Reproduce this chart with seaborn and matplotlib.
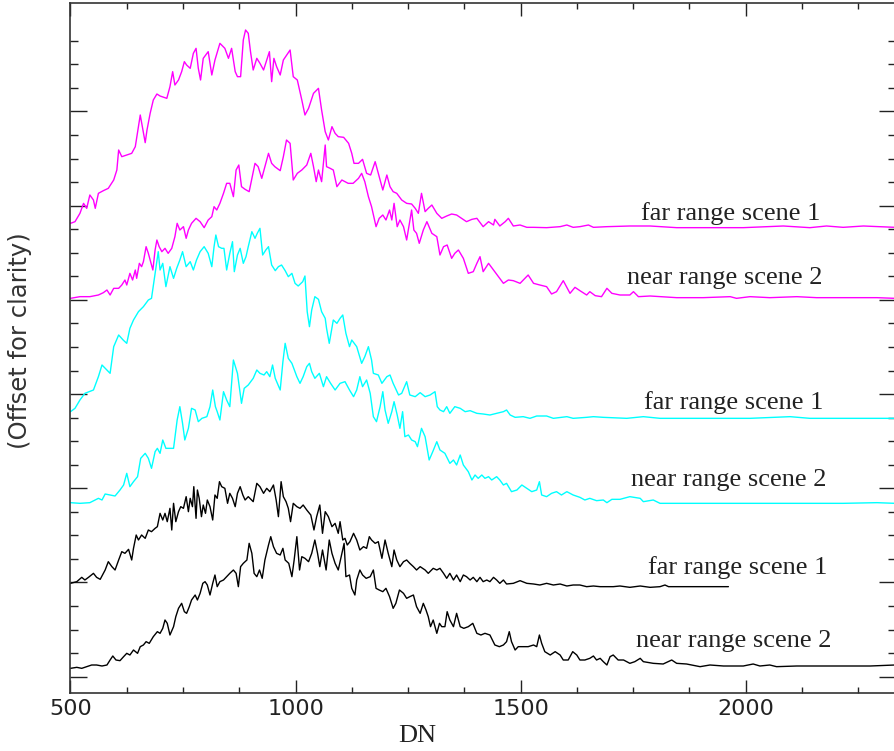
import numpy as np
import pandas as pd
import matplotlib
matplotlib.use("Agg")
import matplotlib.pyplot as plt
import seaborn as sns
from matplotlib.ticker import FixedLocator, NullFormatter

# ---------------- data (DN, offset counts) ----------------
mag_far = [(500,1409),(510,1414),(521,1439),(529,1469),(536,1454),(543,1494),(551,1479),(555,1454),(562,1499),(573,1507),
(584,1514),(596,1539),(603,1569),(607,1629),(614,1609),(625,1614),(636,1619),(644,1639),(651,1699),(655,1734),
(661,1689),(666,1651),(670,1689),(677,1739),(684,1779),(692,1797),(699,1791),(714,1784),(721,1819),(727,1864),
(732,1824),(740,1839),(747,1864),(753,1894),(758,1884),(766,1874),(773,1919),(779,1934),(784,1874),(789,1839),
(795,1904),(806,1924),(814,1854),(821,1899),(832,1949),(843,1934),(851,1904),(858,1934),(866,1864),(871,1849),
(878,1849),(884,1959),(889,1989),(895,1979),(900,1924),(906,1869),(914,1904),(921,1889),(929,1869),(936,1899),
(942,1924),(947,1834),(952,1904),(958,1879),(966,1854),(973,1899),(988,1929),(995,1849),(1004,1839),(1014,1779),
(1021,1734),(1029,1754),(1040,1799),(1051,1814),(1058,1749),(1066,1684),(1073,1659),(1081,1699),(1088,1679),(1095,1669),
(1107,1667),(1118,1649),(1125,1619),(1130,1589),(1140,1589),(1149,1601),(1158,1559),(1167,1554),(1177,1594),(1184,1559),
(1194,1509),(1203,1554),(1210,1519),(1217,1504),(1225,1499),(1236,1479),(1247,1469),(1258,1467),(1266,1454),(1273,1439),
(1280,1499),(1288,1444),(1295,1454),(1303,1464),(1314,1439),(1325,1424),(1336,1431),(1347,1437),(1358,1434),(1369,1424),
(1380,1414),(1392,1421),(1403,1424),(1417,1399),(1429,1414),(1440,1404),(1443,1421),(1454,1401),(1466,1414),(1473,1424),
(1484,1401),(1499,1404),(1514,1397),(1529,1397),(1558,1396),(1588,1399),(1603,1404),(1617,1397),(1632,1399),(1651,1404),
(1662,1397),(1692,1399),(1743,1401),(1788,1401),(1847,1396),(1921,1396),(1995,1396),(2084,1401),(2143,1396),(2180,1401),
(2217,1397),(2262,1401),(2332,1397)]

mag_near = [(500,1184),(521,1189),(543,1189),(562,1194),(573,1201),(581,1209),(588,1194),(596,1214),(607,1214),(614,1224),
(621,1239),(625,1224),(632,1259),(638,1239),(644,1269),(647,1244),(653,1289),(658,1279),(662,1294),(668,1339),
(673,1319),(677,1299),(683,1269),(688,1329),(692,1359),(697,1339),(703,1324),(710,1334),(717,1319),(725,1334),
(732,1369),(737,1409),(743,1389),(751,1399),(757,1364),(762,1389),(769,1409),(779,1424),(788,1414),(797,1396),
(806,1419),(814,1429),(819,1459),(825,1449),(832,1469),(840,1499),(847,1529),(854,1529),(862,1489),(868,1569),
(874,1584),(880,1519),(888,1511),(897,1504),(903,1544),(910,1589),(917,1579),(925,1544),(932,1579),(940,1619),
(947,1589),(954,1579),(966,1567),(973,1609),(980,1659),(988,1649),(995,1539),(1004,1559),(1014,1569),(1025,1584),
(1034,1619),(1040,1579),(1046,1534),(1051,1569),(1058,1534),(1066,1644),(1069,1579),(1077,1574),(1084,1569),(1092,1519),
(1103,1539),(1117,1529),(1128,1529),(1140,1544),(1147,1559),(1154,1534),(1162,1489),(1169,1459),(1179,1399),(1186,1424),
(1194,1434),(1201,1419),(1209,1449),(1214,1419),(1219,1469),(1226,1399),(1232,1419),(1240,1399),(1247,1359),(1253,1409),
(1258,1449),(1263,1389),(1269,1379),(1275,1349),(1284,1389),(1292,1414),(1303,1379),(1314,1369),(1321,1314),(1329,1339),
(1337,1344),(1347,1304),(1354,1319),(1362,1329),(1373,1304),(1384,1259),(1395,1264),(1403,1289),(1410,1309),(1417,1264),
(1429,1289),(1440,1269),(1451,1249),(1462,1229),(1473,1239),(1484,1237),(1499,1229),(1517,1254),(1529,1229),(1543,1224),
(1558,1219),(1569,1197),(1580,1204),(1595,1237),(1610,1199),(1621,1217),(1632,1207),(1647,1194),(1654,1204),(1666,1192),
(1680,1189),(1692,1214),(1703,1199),(1721,1194),(1743,1194),(1751,1204),(1762,1189),(1788,1191),(1847,1186),(1906,1186),
(1966,1189),(1980,1184),(2010,1189),(2054,1186),(2114,1189),(2158,1186),(2217,1186),(2292,1186),(2332,1184)]

cyan_far = [(500,844),(510,854),(521,879),(532,899),(551,909),(562,949),(570,984),(581,969),(588,959),(596,1039),
(607,1074),(617,1059),(625,1049),(632,1094),(640,1119),(651,1144),(662,1159),(673,1179),(680,1184),(688,1259),
(695,1324),(699,1269),(705,1289),(712,1219),(721,1279),(729,1244),(736,1274),(743,1299),(749,1324),(757,1279),
(766,1294),(773,1269),(780,1299),(788,1324),(797,1339),(806,1319),(814,1279),(819,1339),(823,1374),(829,1339),
(836,1334),(841,1334),(847,1269),(854,1319),(860,1354),(864,1264),(871,1314),(877,1334),(884,1289),(890,1309),
(895,1339),(903,1384),(910,1364),(915,1379),(921,1394),(927,1314),(934,1329),(940,1339),(947,1284),(955,1267),
(962,1279),(969,1284),(977,1267),(984,1249),(992,1259),(999,1229),(1006,1221),(1016,1234),(1021,1251),(1026,1144),
(1031,1099),(1036,1149),(1043,1189),(1051,1181),(1058,1144),(1066,1124),(1069,1094),(1075,1049),(1084,1119),(1092,1109),
(1099,1124),(1105,1134),(1112,1079),(1120,1039),(1125,1059),(1136,1039),(1147,989),(1154,1009),(1162,1039),(1169,999),
(1173,959),(1184,954),(1192,929),(1203,949),(1210,954),(1217,929),(1229,894),(1236,899),(1247,934),(1254,894),
(1266,889),(1277,901),(1288,889),(1299,894),(1310,904),(1315,859),(1321,849),(1329,844),(1336,859),(1343,839),
(1354,859),(1366,854),(1377,844),(1388,847),(1403,839),(1417,837),(1432,834),(1447,839),(1462,844),(1469,849),
(1477,834),(1488,827),(1506,829),(1521,824),(1536,831),(1558,831),(1573,824),(1603,829),(1617,824),(1647,827),
(1662,829),(1684,827),(1736,824),(1773,829),(1810,824),(1921,824),(2010,824),(2099,829),(2143,824),(2217,824),
(2332,824)]

cyan_near = [(500,571),(521,569),(543,571),(555,579),(562,584),(570,579),(577,597),(588,594),(599,591),(610,609),
(618,624),(625,659),(632,619),(640,634),(649,649),(656,704),(666,719),(673,704),(680,674),(688,724),
(693,734),(699,719),(705,759),(712,734),(721,734),(729,734),(737,819),(743,859),(749,809),(754,759),
(762,794),(769,854),(777,849),(784,814),(792,824),(803,829),(810,859),(816,909),(822,859),(826,844),
(832,819),(840,904),(847,879),(854,859),(862,999),(871,959),(880,869),(886,914),(895,924),(906,944),
(914,969),(921,959),(930,954),(936,964),(943,949),(949,984),(955,944),(966,909),(972,994),(977,1049),
(984,1004),(992,989),(1003,949),(1010,929),(1017,949),(1025,979),(1031,989),(1036,964),(1043,944),(1053,959),
(1062,919),(1069,949),(1078,929),(1088,909),(1099,929),(1110,934),(1120,909),(1129,889),(1136,909),(1143,949),
(1149,919),(1158,939),(1166,899),(1173,829),(1180,814),(1188,859),(1194,904),(1199,849),(1206,809),(1214,844),
(1219,874),(1226,834),(1232,794),(1238,844),(1243,769),(1251,774),(1258,759),(1266,754),(1271,739),(1280,794),
(1288,769),(1297,699),(1305,724),(1314,754),(1321,729),(1332,719),(1343,689),(1351,699),(1358,684),(1366,714),
(1373,684),(1384,664),(1392,639),(1399,654),(1406,644),(1414,654),(1421,644),(1429,649),(1436,639),(1447,649),
(1454,639),(1462,624),(1469,629),(1480,604),(1492,609),(1503,624),(1514,614),(1525,604),(1536,609),(1542,634),
(1547,594),(1558,589),(1569,599),(1580,604),(1591,594),(1603,604),(1617,594),(1632,587),(1643,579),(1654,584),
(1669,577),(1684,579),(1692,571),(1703,581),(1721,581),(1743,589),(1766,584),(1773,574),(1795,579),(1810,569),
(1847,569),(1921,569),(2010,569),(2114,569),(2217,569),(2292,571),(2332,569)]

black_far = [(500,329),(514,334),(525,347),(532,339),(540,347),(551,359),(558,347),(566,341),(577,369),(584,394),
(592,379),(599,369),(607,399),(614,424),(621,419),(629,431),(636,399),(640,434),(646,474),(651,459),
(658,474),(666,464),(673,489),(680,484),(688,494),(693,499),(699,539),(705,519),(710,539),(715,514),
(721,554),(725,489),(729,569),(734,514),(740,544),(745,559),(751,554),(757,589),(762,544),(766,584),
(771,559),(774,619),(779,524),(782,609),(786,584),(791,529),(795,564),(800,539),(804,579),(810,559),
(816,519),(821,594),(826,584),(831,634),(836,619),(843,614),(849,569),(854,599),(860,584),(866,559),
(871,599),(877,619),(883,594),(888,579),(895,589),(906,574),(914,629),(921,619),(929,599),(936,614),
(943,604),(951,624),(957,579),(962,529),(968,634),(973,589),(979,574),(984,554),(989,514),(995,569),
(1003,559),(1010,554),(1017,564),(1025,549),(1034,534),(1041,489),(1047,529),(1054,564),(1060,479),(1066,544),
(1073,529),(1081,499),(1088,509),(1095,479),(1099,514),(1105,459),(1110,464),(1115,444),(1121,454),(1129,479),
(1136,459),(1143,429),(1151,439),(1158,434),(1164,469),(1169,459),(1177,449),(1184,454),(1192,404),(1199,459),
(1206,419),(1214,379),(1219,429),(1225,399),(1232,379),(1240,394),(1247,399),(1254,389),(1262,379),(1269,369),
(1277,379),(1288,369),(1295,359),(1306,374),(1314,369),(1321,374),(1329,359),(1336,344),(1343,359),(1351,339),
(1358,354),(1366,334),(1373,354),(1380,349),(1388,339),(1395,347),(1403,334),(1410,347),(1417,334),(1425,339),
(1432,334),(1440,347),(1447,339),(1454,329),(1462,339),(1469,327),(1484,329),(1499,337),(1514,329),(1529,327),
(1543,324),(1558,329),(1573,324),(1588,327),(1603,321),(1617,324),(1632,324),(1647,319),(1662,321),(1677,319),
(1692,319),(1706,319),(1721,321),(1743,317),(1766,321),(1788,317),(1810,319),(1821,324),(1829,319),(1884,319),
(1962,319)]

black_near = [(500,74),(514,77),(525,74),(536,79),(547,84),(558,84),(570,81),(581,84),(588,99),(594,111),
(601,99),(610,97),(618,109),(625,119),(632,114),(640,129),(649,119),(655,139),(662,144),(668,154),
(675,149),(684,169),(693,184),(699,179),(705,194),(710,219),(715,209),(721,174),(729,199),(734,229),
(740,254),(747,269),(753,244),(758,239),(764,259),(769,279),(777,294),(782,279),(788,299),(794,329),
(799,334),(804,324),(810,294),(816,329),(821,354),(826,319),(832,334),(840,339),(847,349),(854,359),
(862,369),(868,359),(873,319),(878,379),(884,389),(892,399),(897,449),(903,419),(908,359),(914,349),
(920,369),(926,344),(932,399),(940,444),(945,469),(951,439),(958,419),(966,414),(972,434),(977,399),
(985,389),(992,349),(997,399),(1003,469),(1009,369),(1014,409),(1021,404),(1029,394),(1036,419),(1043,459),
(1049,419),(1054,379),(1060,429),(1068,369),(1075,459),(1081,419),(1088,389),(1095,369),(1103,419),(1108,449),
(1112,349),(1120,354),(1125,314),(1132,294),(1136,339),(1143,369),(1149,354),(1157,344),(1166,349),(1173,369),
(1179,314),(1186,309),(1194,304),(1201,314),(1209,289),(1217,254),(1223,269),(1231,309),(1240,299),(1247,284),
(1254,289),(1262,294),(1269,259),(1277,239),(1284,269),(1290,249),(1295,229),(1300,199),(1306,219),(1314,179),
(1320,209),(1325,199),(1332,199),(1337,244),(1343,219),(1351,199),(1358,239),(1366,199),(1374,194),(1384,199),
(1394,209),(1403,179),(1412,174),(1421,179),(1432,174),(1443,144),(1453,139),(1462,144),(1469,154),(1475,184),
(1480,154),(1488,129),(1495,139),(1506,139),(1517,139),(1529,144),(1536,139),(1542,174),(1547,149),(1554,124),
(1566,114),(1577,124),(1588,114),(1595,99),(1606,99),(1616,124),(1625,114),(1632,99),(1643,99),(1654,104),
(1662,111),(1669,99),(1677,104),(1684,94),(1692,84),(1699,109),(1706,114),(1717,99),(1729,99),(1743,89),
(1754,94),(1766,104),(1773,94),(1795,89),(1817,87),(1836,99),(1847,89),(1869,87),(1899,79),(1921,84),
(1951,81),(1995,81),(2017,87),(2032,81),(2054,84),(2069,79),(2114,81),(2158,81),(2217,81),(2277,81),
(2332,84)]

series_names = ["far range scene 1", "near range scene 2", "far range scene 1",
                "near range scene 2", "far range scene 1", "near range scene 2"]
series_data = [mag_far, mag_near, cyan_far, cyan_near, black_far, black_near]
series_colors = ["#ff00ff", "#ff00ff", "#00ffff", "#00ffff", "#000000", "#000000"]
# label anchors (right end DN, baseline in plot units)
label_dn = [2166, 2170, 2172, 2179, 2183, 2192]
label_y = [1419, 1227, 851, 622, 356, 137]

x_major = [500, 1000, 1500, 2000]

# ---------------- plotting ----------------
sns.set_style("ticks")
plt.rcParams["font.family"] = ["DejaVu Sans"]

fig = plt.figure(figsize=(8.95, 7.51), dpi=100)
ax = fig.add_axes([70.5 / 895, 58 / 751, (896 - 70.5) / 895, 690 / 751])

for pts, col in zip(series_data, series_colors):
    df = pd.DataFrame(pts, columns=["DN", "counts"])
    sns.lineplot(data=df, x="DN", y="counts", color=col, linewidth=1.0,
                 estimator=None, sort=False, legend=False, ax=ax)

for name, xd, yd in zip(series_names, label_dn, label_y):
    ax.text(xd, yd, name, ha="right", va="baseline", fontsize=19,
            family=["Liberation Serif", "DejaVu Serif"], color="#222222")

ax.set_xlim(500, 2334.4)
ax.set_ylim(0, 2070)

ax.xaxis.set_major_locator(FixedLocator(x_major))
ax.xaxis.set_minor_locator(FixedLocator(np.arange(500, 2334, 125)))
ymaj = 49 + 282.6 * np.arange(7)
ymin = 49 + 70.65 * np.arange(28)
ax.yaxis.set_major_locator(FixedLocator(ymaj))
ax.yaxis.set_minor_locator(FixedLocator(ymin))
ax.yaxis.set_major_formatter(NullFormatter())

ax.set_xlabel("")
ax.set_ylabel("")
ax.tick_params(axis="x", which="major", direction="in", length=9.5, width=1.0,
               top=True, bottom=True, labelsize=16, pad=4, colors="#222222")
ax.tick_params(axis="x", which="minor", direction="in", length=4.5, width=1.0,
               top=True, bottom=True, colors="#222222")
ax.tick_params(axis="y", which="major", direction="in", length=12, width=1.0,
               left=True, right=True, colors="#222222")
ax.tick_params(axis="y", which="minor", direction="in", length=6, width=1.0,
               left=True, right=True, colors="#222222")
for sp in ax.spines.values():
    sp.set_visible(True)
    sp.set_linewidth(1.2)
    sp.set_color("#333333")

fig.text(417 / 895, 1 - 742 / 751, "DN", ha="center", va="baseline", fontsize=19,
         family=["Liberation Serif", "DejaVu Serif"], color="#222222")
fig.text(20 / 895, 1 - 341 / 751, "(Offset for clarity)", rotation=90, ha="center",
         va="center", fontsize=17.5, color="#333333")

fig.savefig("out.png", dpi=100)
